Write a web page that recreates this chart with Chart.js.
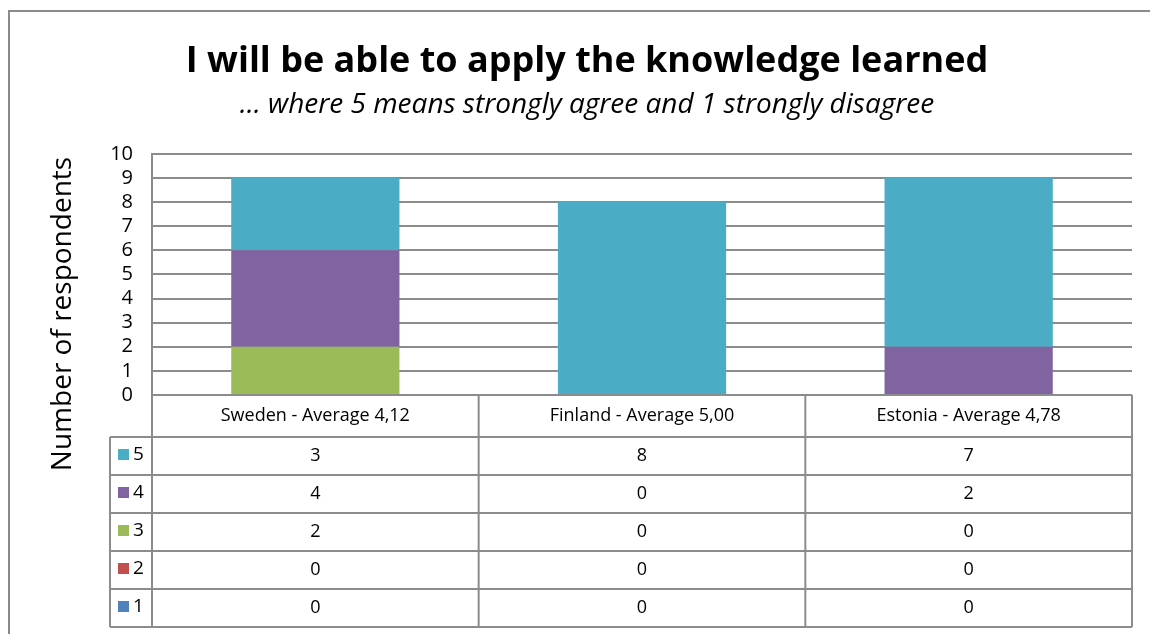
<!DOCTYPE html>
<html>
<head>
<meta charset="utf-8">
<script src="https://cdn.jsdelivr.net/npm/chart.js@4.4.0/dist/chart.umd.min.js"></script>
<style>
  html, body { margin: 0; padding: 0; background: #fff; }
  canvas { display: block; }
</style>
</head>
<body>
<canvas id="chart" width="1150" height="634"></canvas>
<script>
// ===== Data =====
const categories = ['Sweden - Average 4,12', 'Finland - Average 5,00', 'Estonia - Average 4,78'];
const score1 = [0, 0, 0];
const score2 = [0, 0, 0];
const score3 = [2, 0, 0];
const score4 = [4, 0, 2];
const score5 = [3, 8, 7];
const yTicks = [0, 1, 2, 3, 4, 5, 6, 7, 8, 9, 10];

const FONT = '"Open Sans", Lato, sans-serif';
const GRID = '#8c8c8c';

// Frame + white background
const framePlugin = {
  id: 'frame',
  beforeDraw(chart) {
    const ctx = chart.ctx;
    ctx.save();
    ctx.fillStyle = '#fff';
    ctx.fillRect(0, 0, chart.width, chart.height);
    ctx.strokeStyle = '#8a8a8a';
    ctx.lineWidth = 2;
    ctx.strokeRect(9, 11, chart.width + 20, chart.height + 20);
    ctx.restore();
  }
};

// Y-axis title, centred on plot + table like Excel does
const yTitlePlugin = {
  id: 'yTitle',
  afterDraw(chart) {
    const ctx = chart.ctx;
    ctx.save();
    ctx.translate(63, 314);
    ctx.rotate(-Math.PI / 2);
    ctx.font = '28px ' + FONT;
    ctx.fillStyle = '#000';
    ctx.textAlign = 'center';
    ctx.textBaseline = 'middle';
    ctx.fillText('Number of respondents', 0, 0);
    ctx.restore();
  }
};

// Data table under the plot (Excel "data table with legend keys")
const dataTablePlugin = {
  id: 'dataTable',
  afterDraw(chart) {
    const ctx = chart.ctx;
    const area = chart.chartArea;
    const xScale = chart.scales.x;
    const n = chart.data.labels.length;
    const colW = (area.right - area.left) / n;
    const headerH = 42;
    const rowH = 38;
    const keyLeft = 110;
    const top = area.bottom;
    const rowsTop = top + headerH;
    const sets = chart.data.datasets.slice().reverse();
    const bottom = rowsTop + rowH * sets.length;

    ctx.save();
    ctx.strokeStyle = GRID;
    ctx.lineWidth = 2;
    ctx.beginPath();
    // horizontal lines
    ctx.moveTo(area.left, top); ctx.lineTo(area.right, top);
    for (let r = 0; r <= sets.length; r++) {
      const y = rowsTop + r * rowH;
      ctx.moveTo(keyLeft, y); ctx.lineTo(area.right, y);
    }
    // vertical lines
    ctx.moveTo(area.left, area.top); ctx.lineTo(area.left, bottom);
    ctx.moveTo(keyLeft, rowsTop); ctx.lineTo(keyLeft, bottom);
    for (let i = 1; i <= n; i++) {
      const x = area.left + i * colW;
      ctx.moveTo(x, top); ctx.lineTo(x, bottom);
    }
    ctx.stroke();

    ctx.fillStyle = '#000';
    ctx.textAlign = 'center';
    ctx.textBaseline = 'middle';
    ctx.font = '18px ' + FONT;
    chart.data.labels.forEach((lab, i) => {
      ctx.fillText(lab, xScale.getPixelForValue(i), top + headerH / 2);
    });

    sets.forEach((ds, r) => {
      const yc = rowsTop + r * rowH + rowH / 2;
      ctx.fillStyle = ds.backgroundColor;
      ctx.fillRect(keyLeft + 8, yc - 7, 11, 11);
      ctx.fillStyle = '#000';
      ctx.textAlign = 'left';
      ctx.font = '19px ' + FONT;
      ctx.fillText(ds.label, keyLeft + 23, yc - 1);
      ctx.font = '18px ' + FONT;
      ctx.textAlign = 'center';
      ds.data.forEach((v, i) => {
        ctx.fillText(String(v), xScale.getPixelForValue(i), yc);
      });
    });
    ctx.restore();
  }
};

const ctx = document.getElementById('chart');
new Chart(ctx, {
  type: 'bar',
  data: {
    labels: categories,
    datasets: [
      { label: '1', data: score1, backgroundColor: '#4F81BD' },
      { label: '2', data: score2, backgroundColor: '#C0504D' },
      { label: '3', data: score3, backgroundColor: '#9BBB59' },
      { label: '4', data: score4, backgroundColor: '#8064A2' },
      { label: '5', data: score5, backgroundColor: '#4BACC6' }
    ]
  },
  options: {
    responsive: false,
    animation: false,
    layout: { padding: { top: 30, left: 42, right: 18, bottom: 239 } },
    datasets: { bar: { categoryPercentage: 1, barPercentage: 0.515, borderWidth: 0 } },
    plugins: {
      legend: { display: false },
      tooltip: { enabled: false },
      title: {
        display: true,
        text: 'I will be able to apply the knowledge learned',
        color: '#000',
        font: { family: FONT, size: 36, weight: 'bold', lineHeight: 1.2 },
        padding: { top: 10, bottom: 0 }
      },
      subtitle: {
        display: true,
        text: '... where 5 means strongly agree and 1 strongly disagree',
        color: '#000',
        font: { family: FONT, size: 28, style: 'italic', lineHeight: 1.2 },
        padding: { top: 5, bottom: 32 }
      }
    },
    scales: {
      x: {
        stacked: true,
        display: false
      },
      y: {
        stacked: true,
        min: 0,
        max: 10,
        afterBuildTicks(scale) { scale.ticks = yTicks.map(v => ({ value: v })); },
        afterFit(scale) { scale.width = 110; },
        grid: { color: GRID, lineWidth: 2, drawTicks: false },
        border: { display: true, color: GRID, width: 2 },
        ticks: { color: '#000', font: { family: FONT, size: 20 }, padding: 19, autoSkip: false }
      }
    }
  },
  plugins: [framePlugin, yTitlePlugin, dataTablePlugin]
});
</script>
</body>
</html>
